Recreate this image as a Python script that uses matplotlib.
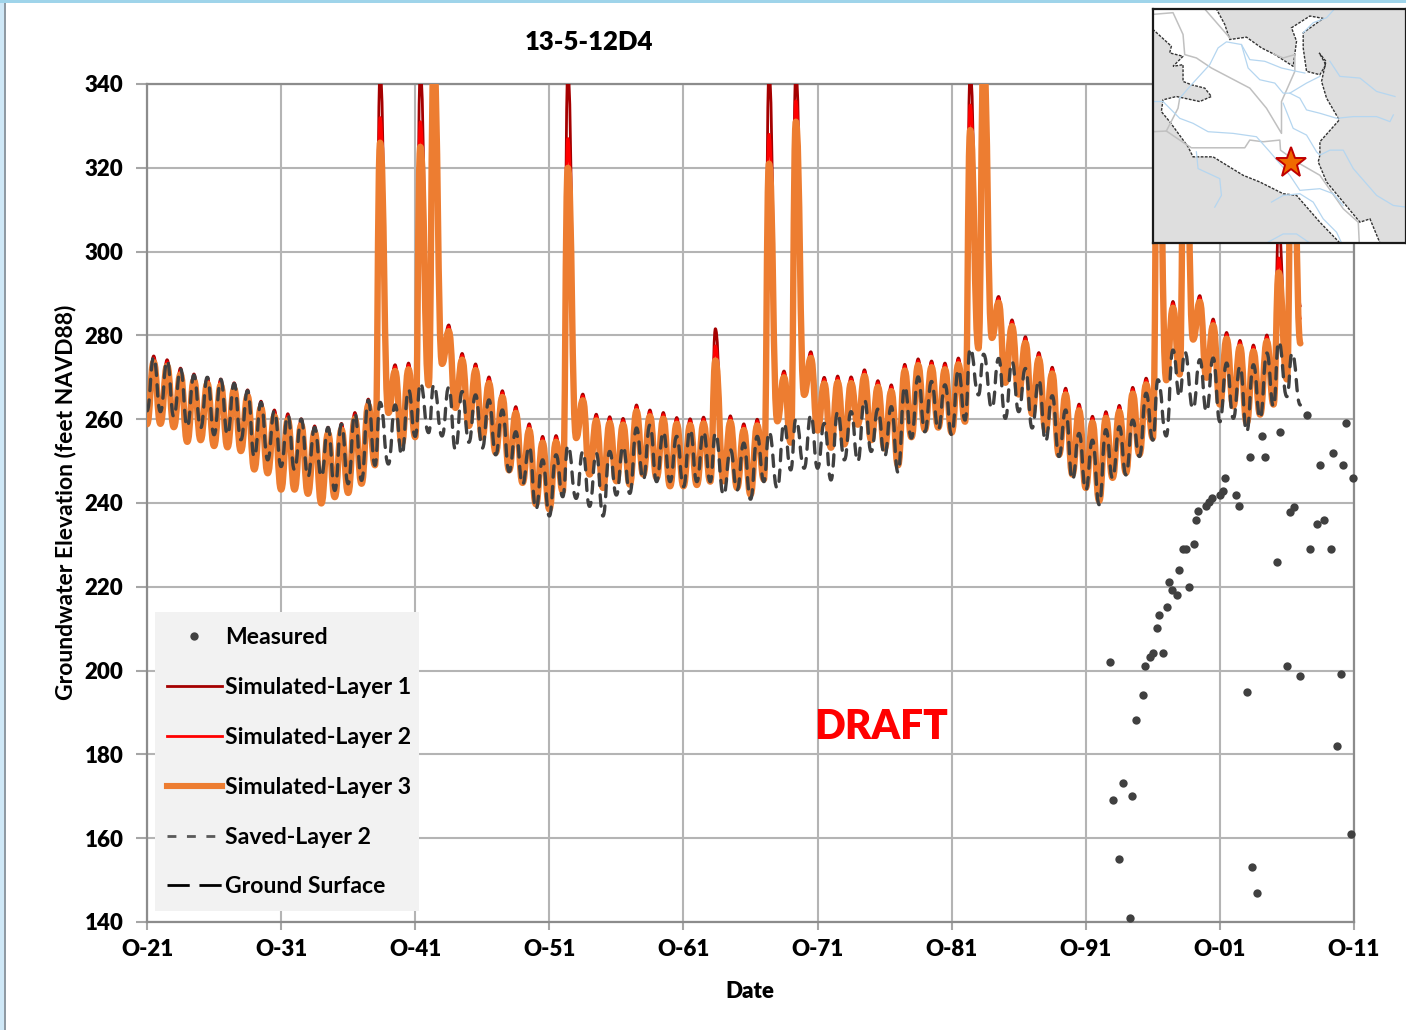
import numpy as np
import matplotlib
matplotlib.use("Agg")
import matplotlib.pyplot as plt
from matplotlib.patches import Polygon, Rectangle, PathPatch
from matplotlib.path import Path

plt.rcParams['font.family'] = ['Lato', 'DejaVu Sans']

W, H = 1406, 1030

# one peak and one trough per water year
layer1_peak = [275.1, 274.2, 272.2, 270.8, 270, 269.6, 268.7, 267, 264.3, 262.2,
               261.3, 260.1, 258.4, 258.1, 259, 261.6, 264.8, 343, 273, 273.4,
               343, 348, 282.5, 275.7, 273.2, 270.1, 266.8, 263, 258.9, 255.9,
               256.1, 343, 266, 261.2, 260.6, 260.2, 263.4, 262.2, 261.6, 260.4,
               260.1, 260.5, 281.6, 260.8, 258.9, 260, 343, 271.5, 343, 276.1,
               270, 270.3, 270.1, 271.8, 269.2, 268.2, 273.1, 274.4, 273.9, 273.4,
               274.6, 343, 348, 289.3, 283.7, 279.7, 275.9, 272.4, 267.4, 263.6,
               260.7, 261.8, 263.3, 267.6, 269.8, 348, 288.1, 348, 289.5, 283.9,
               280.7, 278.8, 277.7, 280.1, 306, 348]
layer2_peak = [274.6, 273.7, 271.7, 270.3, 269.5, 269.1, 268.2, 266.5, 263.8, 261.7,
               260.8, 259.6, 257.9, 257.6, 258.5, 261.1, 264.3, 332, 272.5, 272.9,
               331, 347, 282, 275.2, 272.7, 269.6, 266.3, 262.5, 258.4, 255.4,
               255.6, 327, 265.5, 260.7, 260.1, 259.7, 262.9, 261.7, 261.1, 259.9,
               259.6, 260, 277.5, 260.3, 258.4, 259.5, 328, 271, 336, 275.6,
               269.5, 269.8, 269.6, 271.3, 268.7, 267.7, 272.6, 273.9, 273.4, 272.9,
               274.1, 335, 347, 288.8, 283.2, 279.2, 275.4, 271.9, 266.9, 263.1,
               260.2, 261.3, 262.8, 267.1, 269.3, 347, 287.6, 347, 289, 283.4,
               280.2, 278.3, 277.2, 279.6, 298.5, 347]
layer3_peak = [273.6, 272.7, 270.7, 269.3, 268.5, 268.1, 267.2, 265.5, 262.8, 260.7,
               259.8, 258.6, 256.9, 256.6, 257.5, 260.1, 263.3, 326, 271.5, 271.9,
               325, 346, 281, 274.2, 271.7, 268.6, 265.3, 261.5, 257.4, 254.4,
               254.6, 320, 264.5, 259.7, 259.1, 258.7, 261.9, 260.7, 260.1, 258.9,
               258.6, 259, 274, 259.3, 257.4, 258.5, 321, 270, 331, 274.6,
               268.5, 268.8, 268.6, 270.3, 267.7, 266.7, 271.6, 272.9, 272.4, 271.9,
               273.1, 329, 346, 287.8, 282.2, 278.2, 274.4, 270.9, 265.9, 262.1,
               259.2, 260.3, 261.8, 266.1, 268.3, 346, 286.6, 346, 288, 282.4,
               279.2, 277.3, 276.2, 278.6, 295, 346]
sim_trough = [258.9, 258.1, 254.6, 255, 253.6, 253.3, 252.4, 248, 247.1, 243.2,
              243.2, 242.2, 239.9, 241.4, 242.4, 244.6, 249, 261.5, 254.2, 255.7,
              268.1, 273.2, 262.7, 258.4, 255.7, 252, 247.8, 244.8, 239.7, 238.5,
              242.8, 255.5, 246.8, 243.6, 245.2, 244.4, 246.8, 246, 244, 244,
              244.3, 245.1, 245.2, 243.6, 242, 245.6, 259.5, 254.4, 265.8, 257.3,
              253.2, 254, 258.7, 255, 253, 249, 255.7, 257.5, 258, 256.8,
              259.4, 276.9, 279.4, 268.7, 265.9, 261.3, 257.5, 251.5, 246.8, 243.6,
              240.5, 246, 247.2, 251.6, 255.5, 269.3, 270.7, 279, 269.9, 263.5,
              263.1, 259.1, 261.1, 263.5, 269.5]
saved_peak = [274.8, 274, 272, 270.5, 270, 269.5, 268.5, 266.8, 264, 262,
              261, 260, 258, 258, 258.8, 261.4, 264.5, 264, 263.4, 267,
              268.6, 268.2, 267.6, 266.6, 265.8, 264.6, 262.2, 257, 253.5, 250.3,
              251.5, 253.7, 252.3, 251.9, 252.3, 253.5, 257.9, 258.6, 257, 255.9,
              257.5, 257, 256.7, 252.7, 254.3, 255.9, 257, 259, 260, 261,
              259, 261.8, 261.8, 264.6, 262.4, 263, 267.8, 270.1, 269, 268.2,
              271.8, 276.9, 275.5, 274.5, 273.7, 272.1, 269.4, 265.6, 262.2, 256.6,
              255, 257.5, 258.2, 259.8, 266.2, 269.4, 276.5, 276.1, 274.2, 274.6,
              273.4, 272.6, 273, 275.8, 278.5, 275.8]
saved_trough = [261.8, 260.6, 258.2, 257.9, 256.3, 256.3, 255.1, 251, 250.3, 248.7,
                247.9, 246.3, 246.3, 243, 244.6, 245.4, 249, 249.3, 251.5, 255.9,
                256.8, 256, 252.7, 254.5, 253.1, 251.5, 247.5, 244.4, 238.5, 236.9,
                241.5, 241.1, 239.2, 236.9, 241.9, 242.3, 245.5, 245.1, 245.1, 243.9,
                245.1, 245.1, 241.9, 243.1, 240.9, 245.1, 243.5, 247.9, 248.3, 248.3,
                245.5, 250.3, 249.9, 252.3, 251.1, 247.3, 255.5, 257, 257.5, 256.3,
                259.8, 265.8, 262.6, 260.2, 261.8, 257.9, 254.7, 251.1, 245.5, 243.1,
                239.6, 245.9, 246.7, 251.1, 255, 256, 265.4, 262.5, 261.8, 259.4,
                260.2, 257, 260.2, 263, 265.4]
# first and last simulated values
start_sim, start_saved = 258.8, 262
end_layer1, end_layer2, end_layer3, end_saved = 287, 284, 278.1, 263.4
spike_years = [17, 20, 21, 31, 42, 46, 48, 61, 62, 75, 77, 84, 85]

measured_year = [1992.80, 1993.0, 1993.47, 1993.75, 1994.29, 1994.42, 1994.74, 1995.24,
                 1995.41, 1995.78, 1995.98, 1996.73, 1996.28, 1996.43, 1997.03, 1997.40,
                 1997.22, 1997.77, 1997.97, 1998.71, 1998.27, 1998.47, 1999.04, 1999.21,
                 1999.34, 1999.96, 2000.2, 2000.41, 2001.0, 2001.25, 2001.35, 2002.19,
                 2002.39, 2003.04, 2003.41, 2003.78, 2003.21, 2004.38, 2004.16, 2005.45,
                 2007.46, 2005.27, 2006.02, 2006.22, 2006.54, 2006.96, 2007.71, 2008.25,
                 2008.77, 2009.30, 2009.72, 2010.02, 2010.79, 2010.4, 2009.47, 2008.5,
                 2010.19, 2010.94]
measured_elev = [202, 169.1, 155, 173.1, 141, 170.1, 188.1, 194.1,
                 201, 203.2, 204.1, 204.1, 210.1, 213.2, 215.1, 219.2,
                 221.1, 218.1, 224.1, 220, 229.1, 229.1, 230.1, 236,
                 238, 239.2, 240.3, 241.1, 241.9, 242.9, 246, 241.9,
                 239.2, 195, 153.1, 147, 251, 251, 256, 257,
                 261, 226, 201, 237.9, 239.1, 198.6, 229.1, 235,
                 236, 229.1, 182, 199.1, 161, 259.1, 252, 249.1,
                 249.1, 246]

x_tick_years = [1921, 1931, 1941, 1951, 1961, 1971, 1981, 1991, 2001, 2011]
x_tick_labels = ['O-21', 'O-31', 'O-41', 'O-51', 'O-61', 'O-71', 'O-81', 'O-91', 'O-01', 'O-11']
y_ticks = [140, 160, 180, 200, 220, 240, 260, 280, 300, 320, 340]

# inset map, in picture units of the inset
basin = [(10, 14), (200, 14), (225, 60), (240, 105), (290, 98), (335, 130), (375, 150),
         (430, 185), (440, 110), (425, 70), (480, 35), (520, 42), (460, 85), (460, 130),
         (470, 200), (510, 210), (528, 180), (508, 145), (528, 170), (515, 230), (530, 280),
         (568, 345), (510, 410), (510, 450), (505, 470), (530, 530), (580, 590), (630, 650),
         (660, 640), (690, 712), (570, 712), (510, 650), (440, 570), (400, 565), (330, 530),
         (280, 510), (190, 455), (130, 455), (115, 425), (60, 350), (35, 320), (40, 285),
         (80, 275), (150, 290), (185, 275), (165, 250), (125, 240), (100, 230), (100, 180),
         (70, 185), (100, 155), (60, 145), (65, 125), (10, 75)]
rivers = [[(90, 280), (125, 240), (180, 180), (205, 130), (230, 112), (275, 120), (300, 165),
           (345, 170), (395, 190), (440, 200), (465, 205)],
          [(275, 120), (295, 190), (330, 225), (375, 235), (400, 265), (420, 265), (470, 235), (510, 215)],
          [(420, 265), (450, 280), (470, 315), (510, 325), (560, 340), (610, 335), (680, 335), (720, 350), (730, 330)],
          [(400, 295), (430, 370), (470, 390), (500, 440), (510, 450), (540, 435), (580, 435),
           (610, 490), (680, 570), (730, 600), (768, 605)],
          [(10, 290), (40, 290), (60, 310), (90, 340), (130, 355), (175, 380), (250, 385), (320, 395),
           (360, 440), (420, 510), (450, 555), (510, 550), (550, 565), (580, 600)],
          [(140, 440), (145, 490), (210, 520), (215, 570), (195, 605)],
          [(365, 590), (400, 570), (450, 565), (490, 590), (520, 640), (560, 680), (575, 712)],
          [(350, 712), (400, 685), (440, 685), (480, 712)],
          [(540, 170), (570, 215), (630, 220), (680, 260), (735, 275)],
          [(460, 85), (490, 55), (530, 40), (550, 18)]]
roads = [[(10, 30), (70, 25), (100, 90), (105, 150), (140, 160), (185, 190), (300, 250), (350, 310),
          (395, 385), (395, 290), (435, 200), (435, 150), (400, 160), (375, 150)],
         [(165, 14), (240, 100)],
         [(10, 380), (50, 378), (105, 415), (125, 428), (285, 428), (300, 405), (340, 410), (390, 405),
          (392, 435), (440, 470), (510, 510), (580, 610), (625, 650), (628, 712)],
         [(50, 378), (85, 310), (90, 280)]]
star_xy = (423, 472)

# trough closes each water year, peak near the middle
n = len(layer3_peak)
peak_x = 1921.5 + np.arange(n, dtype=float)
peak_x[spike_years] -= 0.12
trough_x = 1922.0 + np.arange(n - 1)
x = np.concatenate([[1921.0], np.column_stack([peak_x[:-1], trough_x]).ravel(), [peak_x[-1], 2007.0]])


def zigzag(first, peaks, troughs, last):
    return np.concatenate([[first], np.column_stack([peaks[:-1], troughs]).ravel(), [peaks[-1], last]])


def seasonal_curve(ax, y, **kw):
    # flat tangents at each peak and trough, the workbook line is smoothed
    verts = [(x[0], y[0])]
    for i in range(1, len(x)):
        mid = (x[i - 1] + x[i]) / 2
        verts += [(mid, y[i - 1]), (mid, y[i]), (x[i], y[i])]
    codes = [Path.MOVETO] + [Path.CURVE4] * (len(verts) - 1)
    ax.add_patch(PathPatch(Path(verts, codes), fill=False, capstyle='round', joinstyle='round', **kw))


fig = plt.figure(figsize=(W / 100, H / 100), dpi=100)
ax = fig.add_axes([147 / W, 1 - 922 / H, (1354 - 147) / W, (922 - 84) / H])

ax.plot(measured_year, measured_elev, 'o', color='#404040', ms=6, mew=0, label='Measured', zorder=5, clip_on=False)
seasonal_curve(ax, zigzag(start_sim, layer1_peak, sim_trough, end_layer1), ec='#a50000', lw=2, zorder=3)
seasonal_curve(ax, zigzag(start_sim, layer2_peak, sim_trough, end_layer2), ec='#ff0000', lw=2, zorder=3)
seasonal_curve(ax, zigzag(start_sim, layer3_peak, sim_trough, end_layer3), ec='#ed7d31', lw=4.6, zorder=3)
seasonal_curve(ax, zigzag(start_saved, saved_peak, saved_trough, end_saved), ec='#404040', lw=2.4,
               ls=(0, (3.4, 2.8)), zorder=4)

# legend proxies
ax.plot([], [], color='#a50000', lw=2, label='Simulated-Layer 1')
ax.plot([], [], color='#ff0000', lw=2, label='Simulated-Layer 2')
ax.plot([], [], color='#ed7d31', lw=4.4, label='Simulated-Layer 3')
ax.plot([], [], color='#595959', lw=2, dashes=(3.2, 3.8), label='Saved-Layer 2')
ax.plot([], [], color='black', lw=2, dashes=(8, 3.5), label='Ground Surface')

ax.set_xlim(1921, 2011)
ax.set_ylim(140, 340)
ax.set_xticks(x_tick_years)
ax.set_xticklabels(x_tick_labels)
ax.set_yticks(y_ticks)
ax.grid(True, color='#b4b4b4', lw=1.5)
ax.set_axisbelow(True)
for s in ax.spines.values():
    s.set_color('#8c8c8c')
    s.set_linewidth(1.6)
ax.tick_params(axis='x', length=6, width=1.5, color='#a6a6a6', pad=6, labelsize=16)
ax.tick_params(axis='y', length=8, width=1.5, color='#a6a6a6', pad=9, labelsize=16)
for t in ax.get_xticklabels() + ax.get_yticklabels():
    t.set_fontweight('heavy')

fig.text(589 / W, 1 - 42 / H, '13-5-12D4', ha='center', va='center', fontsize=18.5, fontweight='heavy')
fig.text(750 / W, 1 - 992 / H, 'Date', ha='center', va='center', fontsize=16, fontweight='heavy')
fig.text(66 / W, 1 - 502 / H, 'Groundwater Elevation (feet NAVD88)', rotation=90, ha='center', va='center',
         fontsize=16.5, fontweight='bold')
fig.text(881 / W, 1 - 727 / H, 'DRAFT', color='#ff0000', ha='center', va='center', fontsize=29.2, fontweight='heavy')

# grey legend box drawn apart so the rows can sit where they do in the original
ax.add_patch(Rectangle((155 / W, 1 - 911 / H), 264 / W, 299 / H, transform=fig.transFigure, fc='#f2f2f2', ec='none',
                       zorder=5.5, clip_on=False))
leg = ax.legend(loc='lower left', bbox_to_anchor=(155 / W, 1 - 909 / H, 264 / W, 295 / H), bbox_transform=fig.transFigure,
                mode='expand', borderaxespad=0, borderpad=0.5, frameon=False, handlelength=2.4, handletextpad=0.15,
                labelspacing=1.25, prop={'size': 16.6, 'weight': 'bold'})
leg.set_zorder(6)

# inset map
m = fig.add_axes([1153 / W, 1 - 243 / H, (W - 1153) / W, 234 / H], zorder=10)
m.set_facecolor('#dedede')
m.set_xlim(10, 768)
m.set_ylim(712, 14)
m.set_xticks([])
m.set_yticks([])
for s in m.spines.values():
    s.set_linewidth(1.6)
    s.set_color('#1a1a1a')
m.add_patch(Polygon(basin, closed=True, fc='white', ec='#333333', lw=1, ls=(0, (2, 1))))
for r in roads:
    m.plot(*zip(*r), color='#c0c0c0', lw=1.1)
for r in rivers:
    m.plot(*zip(*r), color='#b5d6f0', lw=0.9)
m.plot(*star_xy, marker='*', ms=23, mfc='#f06a00', mec='#c00000', mew=1.4)

# window edge of the screenshot
fig.add_artist(Rectangle((0, 0), 4 / W, 1, transform=fig.transFigure, fc='#cfe8f7', ec='none'))
fig.add_artist(Rectangle((4 / W, 0), 1.5 / W, 1, transform=fig.transFigure, fc='#8f9aa3', ec='none'))
fig.add_artist(Rectangle((0, 1 - 3 / H), 1, 3 / H, transform=fig.transFigure, fc='#9fd4ea', ec='none'))

fig.savefig('out.png', dpi=100)
